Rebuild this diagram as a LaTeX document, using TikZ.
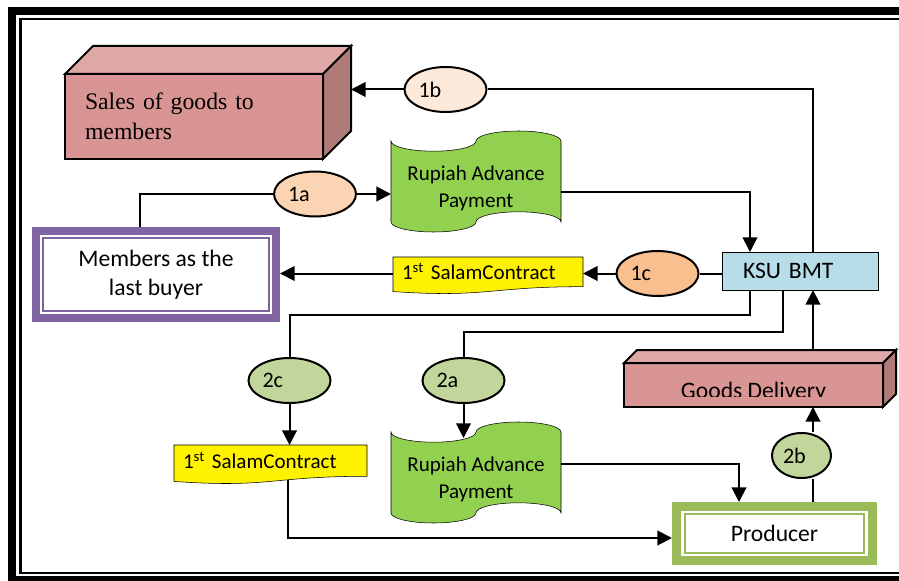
\documentclass[tikz,border=0pt]{standalone}
\usepackage{fontspec}
\setmainfont{Carlito}
\newfontfamily\salesfont{Liberation Serif}
\usetikzlibrary{arrows.meta,calc,shapes.geometric,backgrounds}

\definecolor{boxfront}{HTML}{D99594}
\definecolor{boxtop}{HTML}{DFA8A7}
\definecolor{boxside}{HTML}{AF7A78}
\definecolor{tapegreen}{HTML}{92D050}
\definecolor{ksublue}{HTML}{B7DDE8}
\definecolor{lblA}{HTML}{FBD4B4}
\definecolor{lblB}{HTML}{FDE9D9}
\definecolor{lblC}{HTML}{FABF8F}
\definecolor{lblTwo}{HTML}{C2D69B}
\definecolor{mempurple}{HTML}{8064A2}
\definecolor{prodgreen}{HTML}{9BBB59}

\tikzset{every picture/.style={line width=1.5pt}}
\tikzset{
  link/.style={line width=1.5pt},
  arr/.style={link,-{Triangle[length=11pt,width=11pt]}},
  cube/.style={draw,fill=boxfront,outer sep=0pt,inner sep=0pt},
  flowlbl/.style={ellipse,draw,minimum width=61.5pt,minimum height=33.75pt,inner sep=0pt,
    text width=40.5pt,align=left,font=\fontsize{16.6}{19}\selectfont},
  tape/.style={minimum width=127.5pt,minimum height=75.75pt,inner sep=0pt,outer sep=0pt,
    text height=41.5pt,align=center,font=\fontsize{15.8}{19.9}\selectfont},
  tapeline/.style={draw,fill=tapegreen},
  contract/.style={inner xsep=6.75pt,inner ysep=0pt,outer sep=0pt,text depth=6pt,align=left,
    font=\fontsize{15.8}{19}\selectfont},
  band/.style={draw=#1,line width=6pt,align=center,font=\fontsize{17.7}{21.75}\selectfont}
}

\newcommand\punchtape[1]{%
  \draw[tapeline] ($(#1.north west)+(0,10.1)$)
    arc[start angle=180,end angle=0,x radius=42.5,y radius=10.1]
    arc[start angle=180,end angle=360,x radius=42.5,y radius=10.1]
    -- ($(#1.south east)+(0,-10.1)$)
    arc[start angle=0,end angle=-180,x radius=42.5,y radius=10.1]
    arc[start angle=0,end angle=180,x radius=42.5,y radius=10.1]
    -- cycle;}
\newcommand\docshape[1]{%
  \draw[fill=yellow] (#1.north west) -- (#1.north east)
    -- ($(#1.north east)!0.802!(#1.south east)$)
    .. controls ($(#1.north)!0.802!(#1.south)$) and ($(#1.north)!1.1075!(#1.south)$)
    .. ($(#1.north west)!0.934!(#1.south west)$) -- cycle;}

\begin{document}
\begin{tikzpicture}[x=0.75pt,y=0.75pt,yscale=-1,xscale=1]

\useasboundingbox (0,0) rectangle (899,581);
\clip (0,0) rectangle (899,581);
\draw [line width=6pt] (12,11) rectangle (915,580);
\draw [line width=1.9pt] (20.5,19.2) rectangle (907,573);

\node [cube,minimum width=193.5pt,minimum height=63.75pt,text width=163.5pt,inner xsep=15pt,align=left,
  font=\salesfont\fontsize{17.8}{22.5}\selectfont] (sales) at (194,116.5) {Sales of goods to\\members};
\draw [fill=boxtop] (sales.north west) -- ++(28,-28) -- ++(258,0) -- (sales.north east) -- cycle;
\draw [fill=boxside] (sales.north east) -- ++(28,-28) coordinate (salesback) -- ++(0,85) -- (sales.south east) -- cycle;

\node [cube,minimum width=194.25pt,minimum height=33pt] (gd) at (753.5,385) {};
\draw [fill=boxtop] (gd.north west) -- ++(13,-13) -- ++(259,0) -- (gd.north east) -- cycle;
\draw [fill=boxside] (gd.north east) -- ++(13,-13) coordinate (gdback) -- ++(0,44) -- (gd.south east) -- cycle;
\begin{scope}
\clip (gd.north west) rectangle ($(gd.south east)+(0,-11)$);
\node [anchor=base,font=\fontsize{17.7}{21}\selectfont] (gdtxt) at ($(gd.south)+(0,-8.5)$) {Goods Delivery};
\end{scope}

\node [flowlbl,fill=lblB] (b1) at (445.5,89.5) {1b};
\node [flowlbl,fill=lblA] (a1) at (315,194) {1a};
\node [flowlbl,fill=lblC] (c1) at (657.5,273.5) {1c};
\node [flowlbl,fill=lblTwo] (c2) at (289.5,380.5) {2c};
\node [flowlbl,fill=lblTwo] (a2) at (463.5,380.5) {2a};
\node [flowlbl,fill=lblTwo,minimum width=44.25pt,text width=27.75pt] (b2) at (801.5,455.5) {2b};

\node [tape] (rap1) at (476,181.5) {Rupiah Advance\\Payment};
\node [tape] (rap2) at (476,472.5) {Rupiah Advance\\Payment};
\node [contract,minimum width=142.5pt,minimum height=27.75pt,text width=129pt] (sc1) at (488,275.5) {1\textsuperscript{st} SalamContract};
\node [contract,minimum width=144.75pt,minimum height=29.25pt,text width=131.25pt] (sc2) at (270.5,464.5) {1\textsuperscript{st} SalamContract};

\begin{pgfonlayer}{background}
\punchtape{rap1}
\punchtape{rap2}
\docshape{sc1}
\docshape{sc2}
\end{pgfonlayer}

\node [draw,fill=ksublue,minimum width=117pt,minimum height=28.5pt,inner xsep=15.75pt,text width=85.5pt,
  align=left,outer sep=0pt,font=\fontsize{17.7}{21}\selectfont] (ksu) at (800,271) {KSU BMT};

\node [band=mempurple,minimum width=180pt,minimum height=65.25pt] (mem) at (156,274.5) {Members as the\\last buyer};
\draw [mempurple,line width=1.9pt] ($(mem.north west)+(11,11)$) rectangle ($(mem.south east)+(-11,-11)$);
\node [band=prodgreen,line width=6.75pt,minimum width=147pt,minimum height=40.5pt] (prod) at (774.5,533.5) {Producer};
\draw [prodgreen,line width=1.9pt] ($(prod.north west)+(13,12)$) rectangle ($(prod.south east)+(-13,-12)$);

\coordinate (bmtcol) at ($(ksu.south east)+(-65,0)$);

\draw [link] (mem.north west) ++(108,0) |- (a1.west);
\draw [arr] (a1.east) -- (a1.east -| rap1.west);
\draw [arr] ($(rap1.east)+(0,10.5)$) -| ($(ksu.north west)+(28,0)$);
\draw [link] (bmtcol |- ksu.north) |- (b1.east);
\draw [arr] (b1.west) -- (b1.west -| salesback);
\draw [link] (c1.east) -- (c1.east -| ksu.west);
\draw [arr] (c1.west) -- (c1.west -| sc1.east);
\draw [arr] (c1.west -| sc1.west) -- (c1.west -| mem.east);
\draw [link] ($(ksu.south west)+(28,0)$) -- ++(0,25) -| (c2.north);
\draw [arr] (c2.south) -- (c2.south |- sc2.north);
\draw [link] ($(ksu.south west)+(61,0)$) -- ++(0,42) -| (a2.north);
\draw [arr] (a2.south) -- ($(a2.south |- rap2.north)+(0,16)$);
\draw [arr] ($(rap2.east)+(0,-8.5)$) -| ($(prod.north west)+(67,0)$);
\draw [arr] ($(sc2.south west)+(114,-4)$) |- ($(prod.west)+(0,4.5)$);
\draw [link] (bmtcol |- prod.north) -- (bmtcol |- b2.south);
\draw [arr] (bmtcol |- b2.north) -- (bmtcol |- gd.south);
\draw [arr] (bmtcol |- gdback) -- (bmtcol |- ksu.south);

\end{tikzpicture}
\end{document}
